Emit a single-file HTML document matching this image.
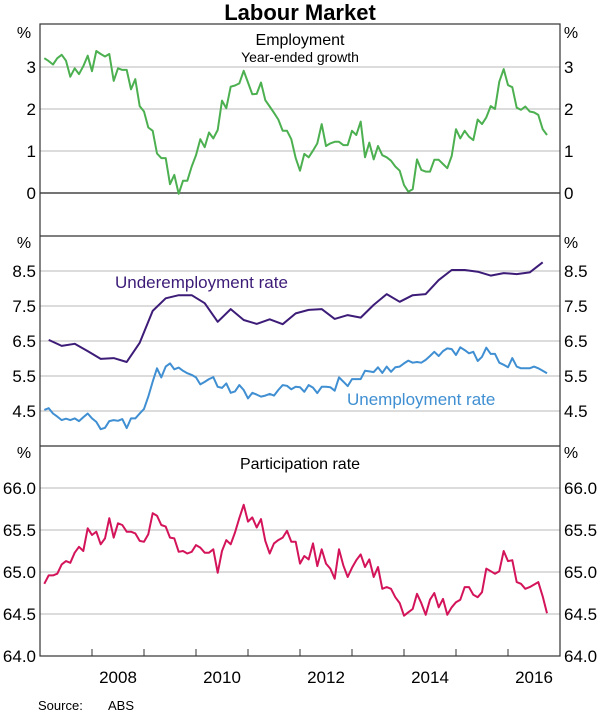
<!DOCTYPE html>
<html><head><meta charset="utf-8"><style>
body{margin:0;background:#fff;}
svg{display:block;font-family:"Liberation Sans",Arial,sans-serif;}
</style></head><body>
<svg id="chart" width="600" height="712" viewBox="0 0 600 712">
<text x="300" y="20" text-anchor="middle" font-size="22" font-weight="bold" fill="#000">Labour Market</text>
<g id="grid"></g>
<g id="series"></g>
<g id="labels"></g>
<rect x="40" y="24" width="520" height="632" fill="none" stroke="#333" stroke-width="1.2"/>
<line x1="40" y1="236" x2="560" y2="236" stroke="#333" stroke-width="1.2"/>
<line x1="40" y1="446" x2="560" y2="446" stroke="#333" stroke-width="1.2"/>
<text x="300" y="45" text-anchor="middle" font-size="16">Employment</text>
<text x="300" y="62" text-anchor="middle" font-size="14">Year-ended growth</text>
<text x="300" y="469" text-anchor="middle" font-size="16">Participation rate</text>
<text x="115" y="288" font-size="17" fill="#3d1c78">Underemployment rate</text>
<text x="347" y="405" font-size="17" fill="#3f8fd2">Unemployment rate</text>
<text x="38" y="710" font-size="13">Source:</text>
<text x="108" y="710" font-size="13">ABS</text>
</svg>
<script>
const employment=[3.21,3.14,3.06,3.21,3.29,3.15,2.77,2.97,2.83,3.02,3.27,2.90,3.38,3.31,3.25,3.31,2.67,2.97,2.93,2.93,2.47,2.71,2.07,1.94,1.56,1.48,0.94,0.83,0.83,0.21,0.43,-0.02,0.29,0.29,0.63,0.90,1.28,1.09,1.44,1.30,1.50,2.20,2.02,2.53,2.56,2.61,2.91,2.63,2.35,2.36,2.63,2.21,2.06,1.91,1.75,1.48,1.48,1.28,0.83,0.53,
0.93,0.85,1.01,1.18,1.64,1.12,1.18,1.22,1.22,1.14,1.14,1.48,1.38,1.70,0.85,1.20,0.80,1.12,0.90,0.85,0.77,0.63,0.53,0.19,0.03,0.09,0.80,0.55,0.51,0.51,0.79,0.79,0.69,0.59,0.88,1.52,1.30,1.48,1.34,1.26,1.75,1.64,1.80,2.07,2.00,2.65,2.95,2.57,2.52,2.03,1.98,2.06,1.94,1.92,1.86,1.52,1.38];
const unemployment=[4.53,4.58,4.43,4.34,4.24,4.28,4.24,4.29,4.21,4.32,4.43,4.29,4.19,3.98,4.02,4.21,4.24,4.22,4.27,4.01,4.29,4.29,4.43,4.56,4.91,5.34,5.72,5.46,5.77,5.86,5.69,5.74,5.65,5.58,5.53,5.46,5.26,5.33,5.41,5.47,5.19,5.16,5.29,5.02,5.06,5.24,5.10,4.86,5.02,4.97,4.91,4.94,4.99,4.94,5.10,5.24,5.22,5.12,5.19,5.18,
5.05,5.24,5.17,5.01,5.19,5.19,5.18,5.08,5.46,5.34,5.21,5.41,5.41,5.41,5.65,5.63,5.61,5.75,5.59,5.77,5.62,5.75,5.77,5.86,5.94,5.88,5.90,5.88,5.96,6.07,6.19,6.07,6.21,6.29,6.27,6.10,6.32,6.24,6.15,6.19,5.93,6.05,6.31,6.13,6.13,5.88,5.82,5.75,6.01,5.77,5.72,5.72,5.72,5.77,5.72,5.65,5.58];
const underemployment=[6.53,6.36,6.42,6.21,5.99,6.01,5.90,6.45,7.36,7.72,7.81,7.81,7.58,7.05,7.41,7.10,6.99,7.12,6.98,7.29,7.39,7.41,7.13,7.24,7.17,7.53,7.84,7.62,7.81,7.84,8.24,8.53,8.53,8.48,8.37,8.44,8.41,8.46,8.75];
const participation=[64.86,64.96,64.96,64.98,65.09,65.13,65.11,65.23,65.30,65.25,65.52,65.44,65.48,65.33,65.40,65.64,65.41,65.58,65.56,65.48,65.48,65.46,65.37,65.36,65.45,65.70,65.67,65.56,65.54,65.41,65.40,65.24,65.25,65.22,65.24,65.32,65.29,65.23,65.23,65.27,64.99,65.25,65.38,65.33,65.47,65.64,65.80,65.60,65.65,65.53,65.63,65.37,65.22,65.34,65.38,65.41,65.49,65.36,65.36,65.10,
65.19,65.15,65.34,65.07,65.27,65.10,65.04,64.92,65.27,65.08,64.94,65.05,65.14,65.21,65.06,65.15,64.94,65.06,64.80,64.82,64.80,64.70,64.63,64.48,64.52,64.56,64.74,64.63,64.49,64.67,64.75,64.58,64.68,64.49,64.58,64.64,64.67,64.82,64.82,64.73,64.70,64.76,65.04,65.01,64.98,65.01,65.25,65.13,65.14,64.88,64.86,64.80,64.82,64.85,64.88,64.71,64.51];
const empTicks=["0","1","2","3"];
const rateTicks=["4.5","5.5","6.5","7.5","8.5"];
const partTicks=["64.0","64.5","65.0","65.5","66.0"];
const yearLabels=["2008","2010","2012","2014","2016"];

const NS="http://www.w3.org/2000/svg";
const svg=document.getElementById('chart');
const gGrid=document.getElementById('grid'),gSer=document.getElementById('series'),gLab=document.getElementById('labels');
function xScale(m){return 40+m*52/12;}
function yEmp(v){return 193-v*42;}
function yRate(v){return 271+(8.5-v)*35;}
function yPart(v){return 656-(v-64)*84;}
function mk(tag,attrs,parent){const e=document.createElementNS(NS,tag);for(const k in attrs)e.setAttribute(k,attrs[k]);parent.appendChild(e);return e;}
function ticks(list,yf,panel,zeroBlack){
  list.forEach(t=>{const v=parseFloat(t),y=yf(v);
    const isAxis=(zeroBlack&&v===0);
    if(Math.abs(y-656)>1){
      const l=mk('line',{x1:40,x2:560,y1:y,y2:y,stroke:isAxis?'#222':'#c8c8c8','stroke-width':isAxis?1.2:1.3},gGrid);
      
      
    }
    const a=mk('text',{x:36,y:y+6,'text-anchor':'end','font-size':17},gLab);a.textContent=t;
    
    
    const b=mk('text',{x:564,y:y+6,'font-size':17},gLab);b.textContent=t;
    
    
  });
}
ticks(empTicks,yEmp,'employment',true);
ticks(rateTicks,yRate,'rates',false);
ticks(partTicks,yPart,'participation',false);
[[38],[248],[458]].forEach((p,i)=>{
  const a=mk('text',{x:24,y:p[0],'text-anchor':'middle','font-size':16},gLab);a.textContent='%';
  
  
  const b=mk('text',{x:571,y:p[0],'text-anchor':'middle','font-size':16},gLab);b.textContent='%';
  
  
});
for(let yr=2008;yr<=2016;yr++){
  const x=xScale((yr-2007)*12);
  const t=mk('line',{x1:x,x2:x,y1:656,y2:649,stroke:'#333','stroke-width':1},gLab);
  
  
}
yearLabels.forEach(y=>{
  const x=xScale((parseInt(y)-2007)*12+6);
  const t=mk('text',{x:x,y:683,'text-anchor':'middle','font-size':17},gLab);t.textContent=y;
  
  
});
function line(data,start,step,yf,color,name){
  const pts=data.map((v,i)=>xScale(start+i*step).toFixed(1)+','+yf(v).toFixed(1)).join(' ');
  const p=mk('polyline',{points:pts,fill:'none',stroke:color,'stroke-width':2,'stroke-linejoin':'round'},gSer);
  
  
}
line(employment,1,1,yEmp,'#4cb050','employment-line');
line(underemployment,2,3,yRate,'#3d1c78','underemployment-line');
line(unemployment,1,1,yRate,'#3f8fd2','unemployment-line');
line(participation,1,1,yPart,'#d4145a','participation-line');
</script>
</body></html>
